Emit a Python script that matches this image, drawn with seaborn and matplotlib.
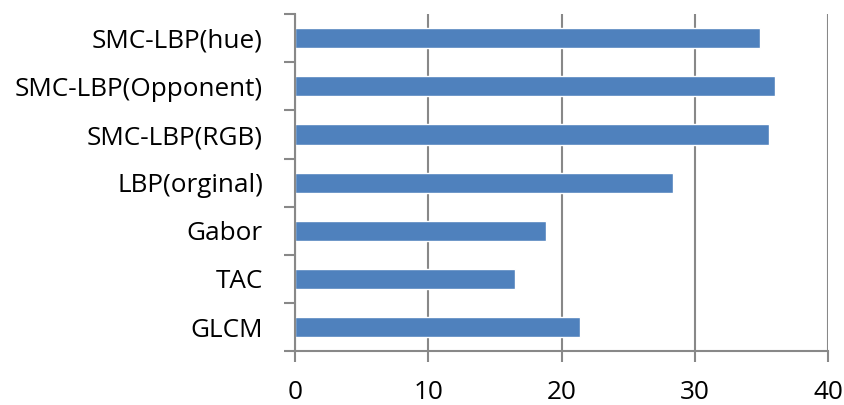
import numpy as np
import pandas as pd
import matplotlib
matplotlib.use("Agg")
import matplotlib.pyplot as plt
import seaborn as sns

# Chart data
methods = ["SMC-LBP(hue)", "SMC-LBP(Opponent)", "SMC-LBP(RGB)", "LBP(orginal)",
           "Gabor", "TAC", "GLCM"]
scores = [34.9, 36.0, 35.6, 28.4, 18.8, 16.5, 21.4]

df = pd.DataFrame({"method": methods, "score": scores})

sns.set_style("white")
plt.rcParams['font.family'] = ['Open Sans', 'DejaVu Sans']

fig = plt.figure(figsize=(8.45, 4.05), dpi=100)
ax = fig.add_axes([0.349, 0.133, 0.631, 0.832])

sns.barplot(data=df, x="score", y="method", order=methods, color="#4F81BD",
            saturation=1, width=0.42, orient="h", ax=ax)

ax.set_xlim(0, 40)
ax.set_ylim(len(methods) - 0.5, -0.5)
ax.set_xticks([0, 10, 20, 30, 40])
ax.xaxis.grid(True, color="#888888", linewidth=1.5)
ax.set_axisbelow(True)
ax.set_xlabel("")
ax.set_ylabel("")

for s in ["top", "right"]:
    ax.spines[s].set_visible(False)
for s in ["left", "bottom"]:
    ax.spines[s].set_color("#888888")
    ax.spines[s].set_linewidth(1.5)

# category boundary ticks on the y axis
ax.set_yticks(np.arange(-0.5, len(methods), 1), minor=True)
ax.tick_params(axis="y", which="major", length=0, pad=23, labelsize=18.8,
               labelcolor="black")
ax.tick_params(axis="y", which="minor", length=8, width=1.5, color="#888888", left=True)
ax.tick_params(axis="x", length=8, width=1.5, color="#888888", bottom=True,
               labelsize=18.8, labelcolor="black", pad=13)

fig.savefig("out.png", dpi=100)
